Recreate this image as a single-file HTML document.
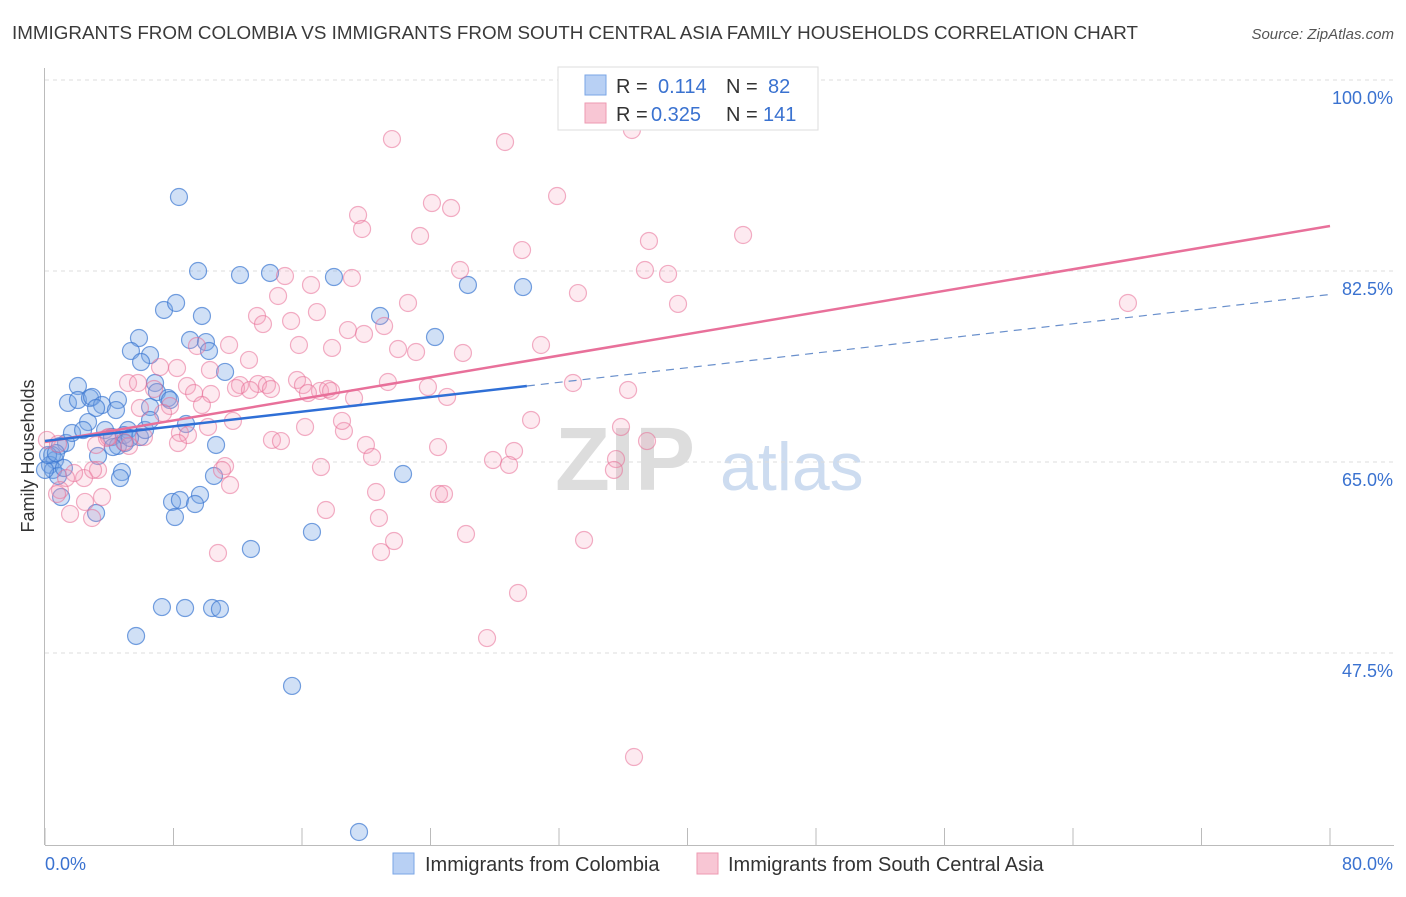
<!DOCTYPE html>
<html><head><meta charset="utf-8">
<style>
body{margin:0;background:#fff;font-family:"Liberation Sans",sans-serif;}
svg text{font-family:"Liberation Sans",sans-serif;}
</style></head>
<body>
<svg id="chart" width="1406" height="892" xmlns="http://www.w3.org/2000/svg">
<text x="12" y="39" font-size="18" fill="#3a3a3a" textLength="1126" lengthAdjust="spacingAndGlyphs">IMMIGRANTS FROM COLOMBIA VS IMMIGRANTS FROM SOUTH CENTRAL ASIA FAMILY HOUSEHOLDS CORRELATION CHART</text>
<text x="1394" y="39" font-size="15" fill="#555" font-style="italic" text-anchor="end">Source: ZipAtlas.com</text>
<g>
<text x="555" y="490" font-size="90" font-family="Liberation Serif" fill="#ddd" font-weight="bold">ZIP</text>
<text x="720" y="490" font-size="68" fill="#cddcf0">atlas</text>
</g>
<g id="grid"></g>
<g id="axes"></g>
<g id="blue"></g>
<g id="pink"></g>
<g id="trends"></g>
<g>
<rect x="558" y="67" width="260" height="63" fill="#fff" stroke="#ddd"/>
<rect x="585" y="75" width="21" height="20" fill="#b8d0f4" stroke="#7aa6e6"/>
<rect x="585" y="103" width="21" height="20" fill="#f8c6d4" stroke="#ee9ab2"/>
<text x="616" y="93" font-size="20" fill="#333">R =</text>
<text x="658" y="93" font-size="20" fill="#3a72d0">0.114</text>
<text x="726" y="93" font-size="20" fill="#333">N =</text>
<text x="768" y="93" font-size="20" fill="#3a72d0">82</text>
<text x="616" y="121" font-size="20" fill="#333">R =</text>
<text x="651" y="121" font-size="20" fill="#3a72d0">0.325</text>
<text x="726" y="121" font-size="20" fill="#333">N =</text>
<text x="763" y="121" font-size="20" fill="#3a72d0">141</text>
</g>
<g>
<rect x="393" y="853" width="21" height="21" fill="#b8d0f4" stroke="#7aa6e6"/>
<text x="425" y="871" font-size="20" fill="#333">Immigrants from Colombia</text>
<rect x="697" y="853" width="21" height="21" fill="#f8c6d4" stroke="#ee9ab2"/>
<text x="728" y="871" font-size="20" fill="#333">Immigrants from South Central Asia</text>
</g>
<text transform="translate(34,456) rotate(-90)" font-size="18" fill="#333" text-anchor="middle">Family Households</text>
</svg>
<script>
const NS="http://www.w3.org/2000/svg";
const xTicks=[0,8,16,24,32,40,48,56,64,72,80];
const yTicks=[100,82.5,65,47.5];
const yTickLabels=["100.0%","82.5%","65.0%","47.5%"];
const xEndLabels=["0.0%","80.0%"];
const P=(a)=>a.map(p=>[+(((p[0]-45)*80/1285).toFixed(2)),+((100-(p[1]-80)*17.5/191).toFixed(2))]);
const blueX=[],blueY=[],pinkX=[],pinkY=[];
const bluePts=P([[179,197],[198,271],[240,275],[270,273],[334,277],[468,285],[523,287],[164,310],[176,303],[202,316],[380,316],[139,338],[190,340],[206,342],[209,351],[131,351],[150,355],[141,362],[435,337],[78,386],[68,403],[78,400],[90,398],[92,397],[102,405],[118,400],[116,410],[155,383],[157,392],[168,398],[150,407],[170,400],[225,372],[88,422],[105,430],[112,437],[128,430],[140,437],[145,430],[150,420],[186,424],[66,443],[60,446],[72,433],[98,456],[118,446],[124,435],[52,455],[55,460],[50,465],[53,470],[58,476],[122,472],[120,478],[216,445],[403,474],[214,476],[200,495],[172,502],[180,500],[195,504],[175,517],[96,513],[61,497],[312,532],[251,549],[162,607],[185,608],[212,608],[220,609],[136,636],[292,686],[359,832],[125,443],[45,470],[48,455],[130,438],[113,447],[83,430],[56,453],[64,468],[96,408]]);
const pinkPts=P([[392,139],[505,142],[632,130],[557,196],[432,203],[451,208],[358,215],[362,229],[420,236],[522,250],[649,241],[743,235],[460,270],[645,270],[668,274],[285,276],[352,278],[311,285],[578,293],[408,303],[678,304],[1128,303],[278,296],[257,316],[263,324],[317,312],[291,321],[348,330],[364,334],[384,326],[299,345],[332,348],[398,349],[416,352],[463,353],[541,345],[197,346],[229,345],[210,370],[249,360],[160,367],[177,368],[128,383],[154,389],[187,386],[194,393],[211,394],[240,385],[236,388],[258,384],[267,385],[271,389],[297,380],[303,385],[320,391],[328,389],[331,391],[308,393],[388,382],[428,387],[447,397],[573,383],[628,390],[354,398],[202,405],[170,406],[140,408],[163,413],[233,421],[208,427],[180,433],[188,435],[178,443],[144,437],[129,446],[124,442],[96,445],[107,438],[109,437],[305,427],[344,431],[342,421],[366,445],[438,447],[531,420],[621,427],[647,441],[272,440],[281,441],[514,451],[493,460],[509,465],[372,457],[225,466],[222,470],[616,459],[614,470],[321,467],[98,470],[84,478],[93,470],[74,473],[66,478],[60,490],[57,494],[102,497],[85,502],[70,514],[92,518],[326,510],[376,492],[439,494],[444,494],[379,518],[466,534],[394,541],[381,552],[584,540],[218,553],[518,593],[487,638],[634,757],[47,440],[58,444],[230,485],[250,390],[138,383]]);
bluePts.forEach(p=>{blueX.push(p[0]);blueY.push(p[1]);});
pinkPts.forEach(p=>{pinkX.push(p[0]);pinkY.push(p[1]);});
const blueTrend=[66.93,80.35];
const pinkTrend=[66.83,86.62];
const blueSolidEnd=30;
const sx=v=>45+v*1285/80;
const sy=v=>80+(100-v)*191/17.5;
function mk(tag,attrs,parent){const e=document.createElementNS(NS,tag);for(const k in attrs)e.setAttribute(k,attrs[k]);parent.appendChild(e);return e;}
const grid=document.getElementById('grid');
yTicks.forEach((t,i)=>{
 const l=mk('line',{x1:45,x2:1394,y1:sy(t),y2:sy(t),stroke:'#ddd','stroke-dasharray':'4,4'},grid);
 
 
 const tx=mk('text',{x:1393,y:sy(t)+24,'font-size':18,fill:'#3a72d0','text-anchor':'end'},grid);
 tx.textContent=yTickLabels[i];
 
 
});
const axes=document.getElementById('axes');
const ya=mk('line',{x1:44.5,x2:44.5,y1:68,y2:845,stroke:'#bbb'},axes);


const xa=mk('line',{x1:45,x2:1394,y1:845.5,y2:845.5,stroke:'#bbb'},axes);


xTicks.forEach(t=>{
 const l=mk('line',{x1:sx(t),x2:sx(t),y1:828,y2:845,stroke:'#bbb'},axes);
 
 
});
const xl0=mk('text',{x:45,y:870,'font-size':18,fill:'#3a72d0'},axes);xl0.textContent=xEndLabels[0];


const xl1=mk('text',{x:1393,y:870,'font-size':18,fill:'#3a72d0','text-anchor':'end'},axes);xl1.textContent=xEndLabels[1];


const bg=document.getElementById('blue');
blueX.forEach((x,i)=>{const c=mk('circle',{cx:sx(x),cy:sy(blueY[i]),r:8.5,fill:'rgba(120,166,230,0.35)',stroke:'rgba(60,120,210,0.7)','stroke-width':1.2},bg);
 
 });
const pg=document.getElementById('pink');
pinkX.forEach((x,i)=>{const c=mk('circle',{cx:sx(x),cy:sy(pinkY[i]),r:8.5,fill:'rgba(244,160,186,0.22)',stroke:'rgba(232,110,150,0.55)','stroke-width':1.2},pg);
 
 });
const tg=document.getElementById('trends');
const bAt=x=>blueTrend[0]+(blueTrend[1]-blueTrend[0])*x/80;
const pl=mk('line',{x1:sx(0),y1:sy(pinkTrend[0]),x2:sx(80),y2:sy(pinkTrend[1]),stroke:'#e8709a','stroke-width':2.5},tg);


const bl=mk('line',{x1:sx(0),y1:sy(bAt(0)),x2:sx(blueSolidEnd),y2:sy(bAt(blueSolidEnd)),stroke:'#2f6fd6','stroke-width':2.5},tg);


const bd=mk('line',{x1:sx(blueSolidEnd),y1:sy(bAt(blueSolidEnd)),x2:sx(80),y2:sy(bAt(80)),stroke:'#6a90cc','stroke-width':1.2,'stroke-dasharray':'8,6'},tg);


</script>
</body></html>
